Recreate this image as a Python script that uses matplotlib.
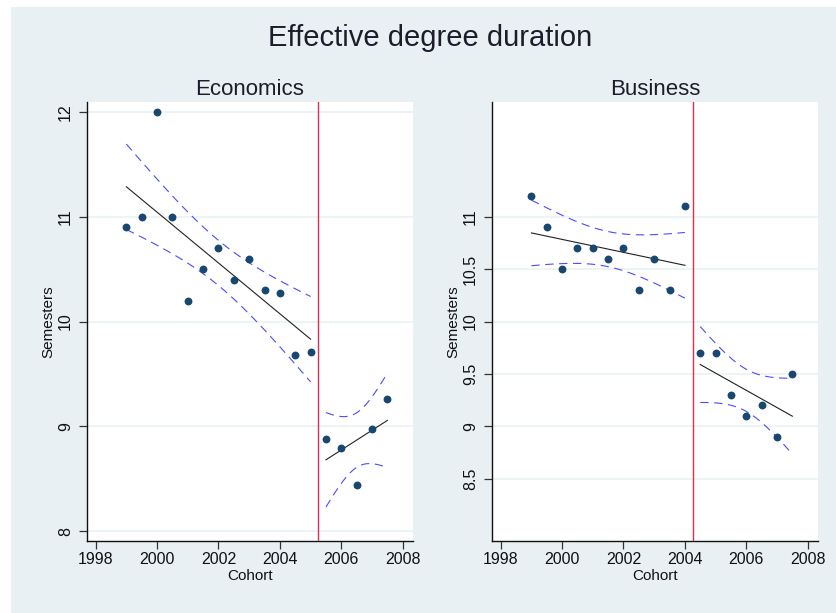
import numpy as np
import matplotlib
matplotlib.use("Agg")
from matplotlib import pyplot as plt
from matplotlib.patches import Rectangle

plt.rcParams['font.family'] = ['Liberation Sans', 'DejaVu Sans']

# kohorty (pół roku) i średni czas studiów w semestrach
econ_x_pre = [1999, 1999.5, 2000, 2000.5, 2001, 2001.5, 2002, 2002.5,
              2003, 2003.5, 2004, 2004.5, 2005]
econ_y_pre = [10.9, 11.0, 12.0, 11.0, 10.2, 10.5, 10.7, 10.4,
              10.6, 10.3, 10.27, 9.68, 9.71]
econ_x_post = [2005.5, 2006, 2006.5, 2007, 2007.5]
econ_y_post = [8.88, 8.79, 8.44, 8.97, 9.26]
econ_cut = 2005.25

bus_x_pre = [1999, 1999.5, 2000, 2000.5, 2001, 2001.5, 2002, 2002.5,
             2003, 2003.5, 2004]
bus_y_pre = [11.2, 10.9, 10.5, 10.7, 10.7, 10.6, 10.7, 10.3,
             10.6, 10.3, 11.1]
bus_x_post = [2004.5, 2005, 2005.5, 2006, 2006.5, 2007, 2007.5]
bus_y_post = [9.7, 9.7, 9.3, 9.1, 9.2, 8.9, 9.5]
bus_cut = 2004.25

econ_yticks = [8, 9, 10, 11, 12]
bus_yticks = [8.5, 9, 9.5, 10, 10.5, 11]
xticks = [1998, 2000, 2002, 2004, 2006, 2008]

BG = '#e9f0f3'
NAVY = '#1a476f'
CI_COL = '#4b4bff'
RED = '#dc2d52'


def lfitci(x, y, n=100, z=1.96):
    # prosta MNK i przedział ufności dla średniej prognozy
    x = np.asarray(x, float)
    y = np.asarray(y, float)
    b, a = np.polyfit(x, y, 1)
    res = y - (a + b * x)
    s = np.sqrt(np.sum(res ** 2) / (len(x) - 2))
    xs = np.linspace(x.min(), x.max(), n)
    fit = a + b * xs
    se = s * np.sqrt(1 / len(x) + (xs - x.mean()) ** 2 / np.sum((x - x.mean()) ** 2))
    return xs, fit, fit - z * se, fit + z * se


def panel(ax, title, segments, cut, yticks, ylabels):
    ax.set_facecolor('white')
    for x, y in segments:
        xs, fit, lo, hi = lfitci(x, y)
        ax.plot(xs, hi, color=CI_COL, lw=0.8, dashes=(7.5, 5), zorder=2)
        ax.plot(xs, lo, color=CI_COL, lw=0.8, dashes=(7.5, 5), zorder=2)
        ax.plot(xs, fit, color='#222222', lw=0.8, zorder=3)
        ax.scatter(x, y, s=32, color=NAVY, zorder=4, linewidths=0)
    ax.axvline(cut, color=RED, lw=1.0, zorder=5)

    ax.set_xlim(1997.717, 2008.335)
    ax.set_ylim(7.905, 12.095)
    ax.set_xticks(xticks)
    ax.set_yticks(yticks)
    ax.set_yticklabels(ylabels, rotation=90, va='center')
    ax.tick_params(axis='both', labelsize=11.5, length=6, width=0.9,
                   color='#333333', labelcolor='#111111')
    ax.tick_params(axis='x', pad=2)
    ax.tick_params(axis='y', pad=4)
    ax.grid(axis='y', color='#eaf2f4', lw=1.2)
    ax.set_axisbelow(True)
    for side in ('top', 'right'):
        ax.spines[side].set_visible(False)
    for side in ('left', 'bottom'):
        ax.spines[side].set_linewidth(1.0)
        ax.spines[side].set_color('#111111')
    ax.set_title(title, fontsize=16, color='#1c1c2c', pad=5)
    ax.set_xlabel('Cohort', fontsize=11, color='#111111', labelpad=1)
    ax.set_ylabel('Semesters', fontsize=11, color='#111111', labelpad=2)


fig = plt.figure(figsize=(8.37, 6.13), dpi=100, facecolor='white')
fig.patches.append(Rectangle((11 / 837, 0), 1, 1 - 7 / 613,
                             transform=fig.transFigure, facecolor=BG,
                             edgecolor='none', zorder=-10))

ax1 = fig.add_axes([87 / 837, 1 - 541 / 613, 326 / 837, 439 / 613])
ax2 = fig.add_axes([492 / 837, 1 - 541 / 613, 326 / 837, 439 / 613])

panel(ax1, 'Economics',
      [(econ_x_pre, econ_y_pre), (econ_x_post, econ_y_post)],
      econ_cut, econ_yticks, [str(v) for v in econ_yticks])
panel(ax2, 'Business',
      [(bus_x_pre, bus_y_pre), (bus_x_post, bus_y_post)],
      bus_cut, bus_yticks, ['8.5', '9', '9.5', '10', '10.5', '11'])

fig.text(430 / 837, 1 - 38 / 613, 'Effective degree duration', ha='center',
         va='center', fontsize=21, color='#1c1c2c')

fig.savefig('out.png', dpi=100, facecolor=fig.get_facecolor())
